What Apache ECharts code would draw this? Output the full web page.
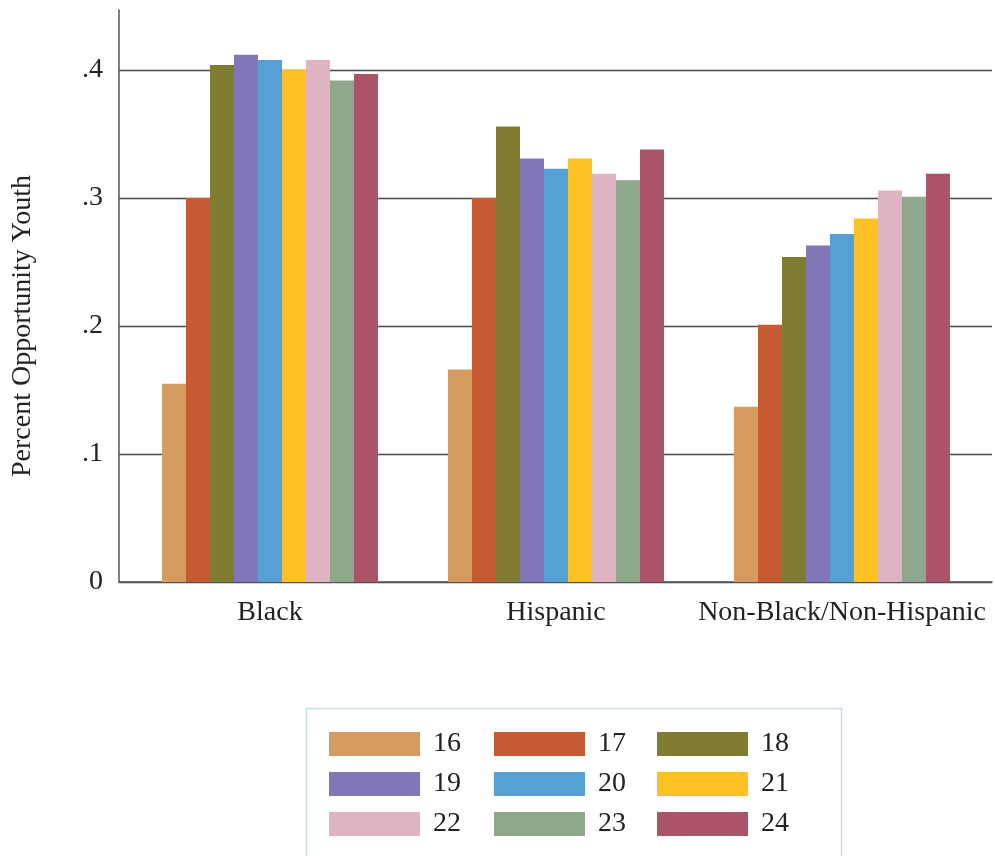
<!DOCTYPE html>
<html>
<head>
<meta charset="utf-8">
<script src="https://cdn.jsdelivr.net/npm/echarts@6/dist/echarts.min.js"></script>
<style>html,body{margin:0;padding:0;background:#fff}#c{width:995px;height:856px}</style>
</head>
<body>
<div id="c"></div>
<script>
const categories = ['Black', 'Hispanic', 'Non-Black/Non-Hispanic'];
const ages = ['16', '17', '18', '19', '20', '21', '22', '23', '24'];
const v16 = [0.155, 0.166, 0.137];
const v17 = [0.300, 0.300, 0.201];
const v18 = [0.404, 0.356, 0.254];
const v19 = [0.412, 0.331, 0.263];
const v20 = [0.408, 0.323, 0.272];
const v21 = [0.4005, 0.331, 0.284];
const v22 = [0.408, 0.319, 0.306];
const v23 = [0.392, 0.314, 0.301];
const v24 = [0.397, 0.338, 0.319];
const yTicks = [0, 0.1, 0.2, 0.3, 0.4];
const yTitle = 'Percent Opportunity Youth';

const values = [v16, v17, v18, v19, v20, v21, v22, v23, v24];
const colors = ['#d49c5f', '#c75a30', '#807c31', '#8177b8', '#549fd4', '#fdc124', '#deb4c3', '#8fa78b', '#ab5469'];
const FONT = 'Liberation Serif';
const TXT = '#222';

const chart = echarts.init(document.getElementById('c'));

function legendCol(i, left) {
  return {
    orient: 'vertical',
    left: left, top: 730,
    padding: 0,
    itemWidth: 91, itemHeight: 24, itemGap: 12,
    icon: 'rect',
    selectedMode: false,
    data: ages.filter((a, k) => k % 3 === i),
    textStyle: { fontFamily: FONT, fontSize: 28, color: TXT, padding: [0, 0, 0, 8] }
  };
}

chart.setOption({
  animation: false,
  color: colors,
  grid: [
    { left: 127, right: 10, top: 10, bottom: 274, containLabel: false },
    { left: 119, right: 3, top: 70, bottom: 274, containLabel: false }
  ],
  xAxis: [
    {
      gridIndex: 0, type: 'category', data: categories,
      axisLine: { show: false }, axisTick: { show: false },
      axisLabel: { fontFamily: FONT, fontSize: 28, color: TXT, margin: 17, interval: 0, hideOverlap: false }
    },
    {
      gridIndex: 1, type: 'value', min: 0, max: 1,
      axisLine: { show: true, lineStyle: { color: '#555', width: 1.5 } },
      axisTick: { show: false }, axisLabel: { show: false }, splitLine: { show: false }
    }
  ],
  yAxis: [
    {
      gridIndex: 0, type: 'value', min: 0, max: 0.447,
      offset: 8,
      axisLine: { show: true, lineStyle: { color: '#555', width: 1.5 } },
      axisTick: { show: false }, axisLabel: { show: false }, splitLine: { show: false }
    },
    {
      gridIndex: 1, type: 'value', min: yTicks[0], max: yTicks[yTicks.length - 1], interval: 0.1,
      axisLine: { show: false }, axisTick: { show: false },
      splitLine: { show: true, lineStyle: { color: '#4a4a4a', width: 1.3 } },
      axisLabel: {
        fontFamily: FONT, fontSize: 28, color: TXT, margin: 16,
        formatter: v => v === 0 ? '0' : v.toFixed(1).replace(/^0/, '')
      }
    }
  ],
  legend: [legendCol(0, 329), legendCol(1, 494), legendCol(2, 657)],
  graphic: [
    {
      type: 'rect', silent: true,
      shape: { x: 306.5, y: 708.5, width: 535, height: 170 },
      style: { fill: 'none', stroke: '#c5e0e4', lineWidth: 1.5 }
    },
    {
      type: 'text', x: 23, y: 326, rotation: Math.PI / 2, silent: true,
      style: { text: yTitle, fontFamily: FONT, fontSize: 28, fill: TXT, align: 'center', verticalAlign: 'middle' }
    }
  ],
  series: ages.map((a, i) => ({
    name: a, type: 'bar', xAxisIndex: 0, yAxisIndex: 0,
    data: values[i], barWidth: 24, barGap: '0%',
    itemStyle: { color: colors[i] }
  }))
});
</script>
</body>
</html>
